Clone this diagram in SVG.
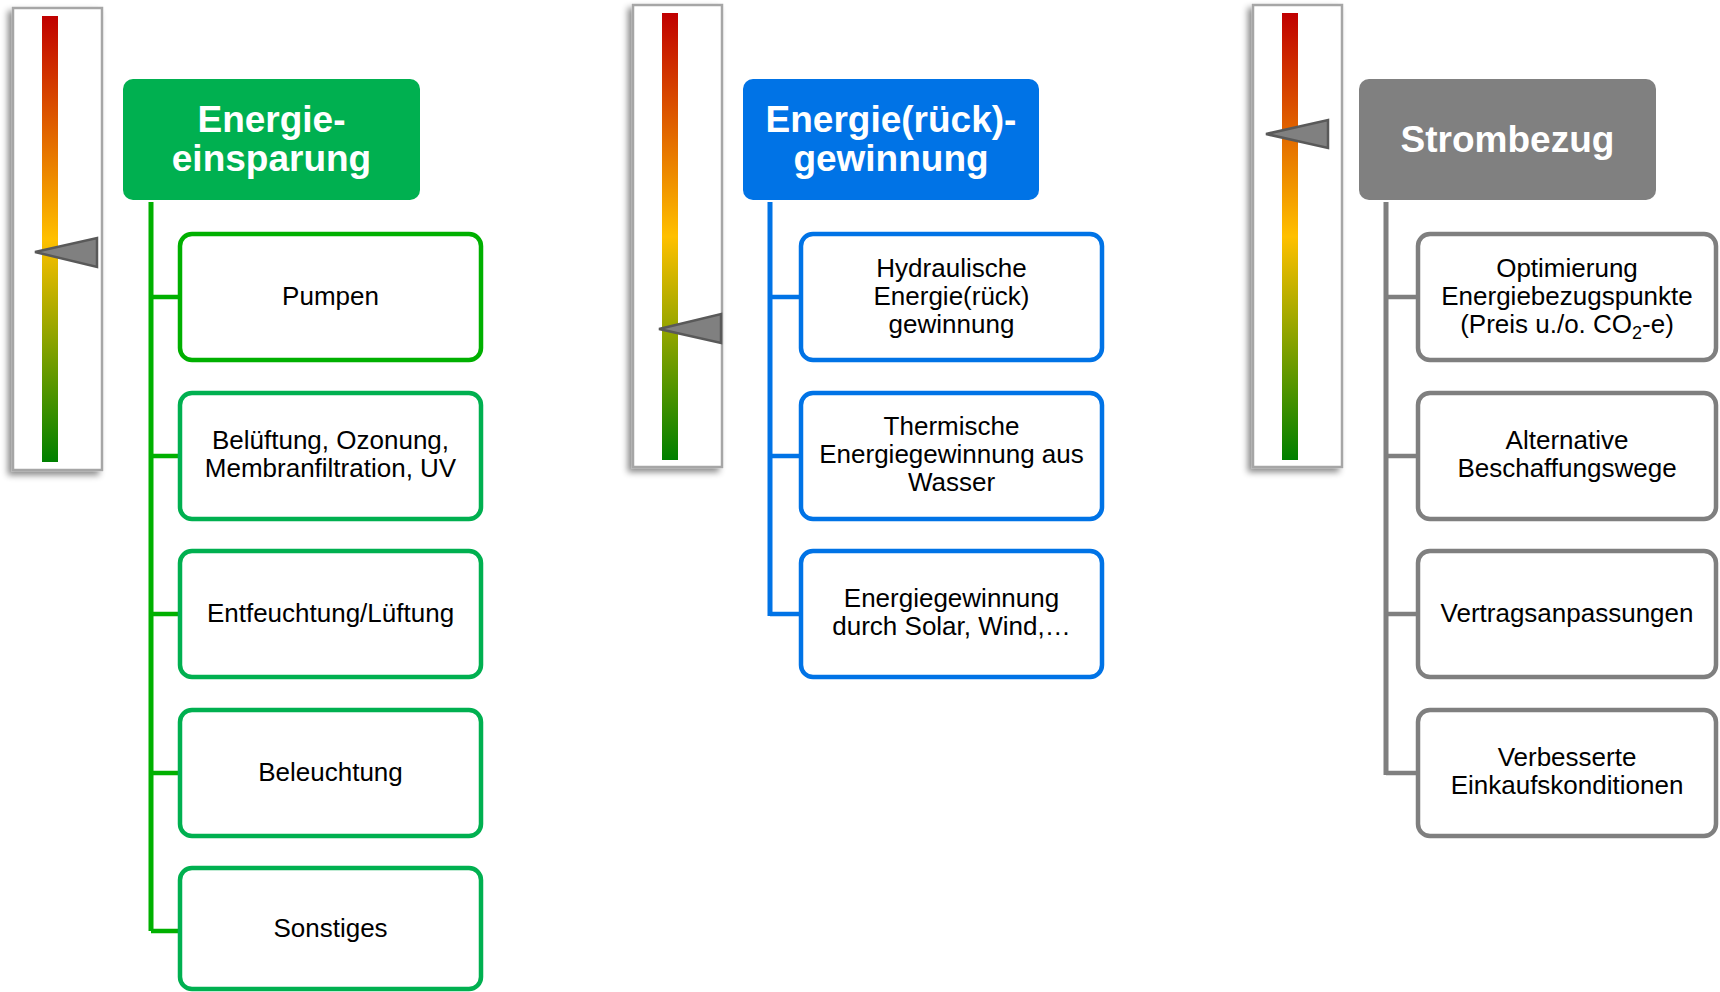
<svg xmlns="http://www.w3.org/2000/svg" width="1720" height="992" viewBox="0 0 1720 992">
<defs>
<linearGradient id="scale" x1="0" y1="0" x2="0" y2="1">
<stop offset="0" stop-color="#C00000"/>
<stop offset="0.5" stop-color="#FFC000"/>
<stop offset="1" stop-color="#008000"/>
</linearGradient>
<filter id="sh" x="-30%" y="-10%" width="160%" height="120%">
<feDropShadow dx="-4" dy="4" stdDeviation="3" flood-color="#000" flood-opacity="0.45"/>
</filter>
</defs>
<style>
.frame{fill:#fff;stroke:#A6A6A6;stroke-width:2.5}
.ptr{fill:#808080;stroke:#595959;stroke-width:2.5;stroke-linejoin:miter}
.hdr{font-family:"Liberation Sans",Arial,sans-serif;font-weight:bold;font-size:37px;fill:#fff;text-anchor:middle}
.lbl{font-family:"Liberation Sans",Arial,sans-serif;font-size:26px;fill:#000;text-anchor:middle}
.box{fill:#fff;stroke-width:4.5}
.g{stroke:#00B050}
.g0{stroke:#00B000}
.b{stroke:#0073E6}
.k{stroke:#7F7F7F}
.cg{stroke:#00B000;fill:none}
.cb{stroke:#0073E6;fill:none}
.ck{stroke:#7F7F7F;fill:none}
.v{stroke-width:5}
.h{stroke-width:4.5}
</style>

<g id="gauge1">
<rect class="frame" x="13" y="8" width="89" height="462" filter="url(#sh)"/>
<rect x="42" y="16" width="16" height="446" fill="url(#scale)"/>
<polygon class="ptr" points="35,252 97,238 97,267"/>
</g>
<g id="gauge2">
<rect class="frame" x="633" y="5" width="89" height="462" filter="url(#sh)"/>
<rect x="662" y="13" width="16" height="447" fill="url(#scale)"/>
<polygon class="ptr" points="659,329 721,314 721,343"/>
</g>
<g id="gauge3">
<rect class="frame" x="1253" y="5" width="89" height="462" filter="url(#sh)"/>
<rect x="1282" y="13" width="16" height="447" fill="url(#scale)"/>
<polygon class="ptr" points="1266,134 1328,120 1328,148"/>
</g>

<g id="connectors">
<path class="cg v" d="M151,202 V931"/>
<path class="cg h" d="M151,297 H180 M151,456 H180 M151,614 H180 M151,773 H180 M151,931 H180"/>
<path class="cb v" d="M770,202 V616"/>
<path class="cb h" d="M770,297 H801 M770,456 H801 M770,614 H801"/>
<path class="ck v" d="M1386,202 V775"/>
<path class="ck h" d="M1386,297 H1418 M1386,456 H1418 M1386,614 H1418 M1386,773 H1418"/>
</g>

<g id="hdr-einsparung">
<rect x="123" y="79" width="297" height="121" rx="10" fill="#00B050"/>
<text class="hdr" x="271.5" y="132">Energie-</text>
<text class="hdr" x="271.5" y="171">einsparung</text>
</g>
<g id="hdr-gewinnung">
<rect x="743" y="79" width="296" height="121" rx="10" fill="#0073E6"/>
<text class="hdr" x="891" y="132">Energie(rück)-</text>
<text class="hdr" x="891" y="171">gewinnung</text>
</g>
<g id="hdr-strombezug">
<rect x="1359" y="79" width="297" height="121" rx="10" fill="#808080"/>
<text class="hdr" x="1507.5" y="152">Strombezug</text>
</g>

<g id="pumpen">
<rect class="box g0" x="180" y="234" width="301" height="126" rx="12"/>
<text class="lbl" x="330.5" y="305">Pumpen</text>
</g>
<g id="belueftung">
<rect class="box g" x="180" y="393" width="301" height="126" rx="12"/>
<text class="lbl" x="330.5" y="449">Belüftung, Ozonung,</text>
<text class="lbl" x="330.5" y="477">Membranfiltration, UV</text>
</g>
<g id="entfeuchtung">
<rect class="box g" x="180" y="551" width="301" height="126" rx="12"/>
<text class="lbl" x="330.5" y="622">Entfeuchtung/Lüftung</text>
</g>
<g id="beleuchtung">
<rect class="box g" x="180" y="710" width="301" height="126" rx="12"/>
<text class="lbl" x="330.5" y="781">Beleuchtung</text>
</g>
<g id="sonstiges">
<rect class="box g" x="180" y="868" width="301" height="121" rx="12"/>
<text class="lbl" x="330.5" y="937">Sonstiges</text>
</g>

<g id="hydraulisch">
<rect class="box b" x="801" y="234" width="301" height="126" rx="12"/>
<text class="lbl" x="951.5" y="277">Hydraulische</text>
<text class="lbl" x="951.5" y="305">Energie(rück)</text>
<text class="lbl" x="951.5" y="333">gewinnung</text>
</g>
<g id="thermisch">
<rect class="box b" x="801" y="393" width="301" height="126" rx="12"/>
<text class="lbl" x="951.5" y="435">Thermische</text>
<text class="lbl" x="951.5" y="463">Energiegewinnung aus</text>
<text class="lbl" x="951.5" y="491">Wasser</text>
</g>
<g id="solar">
<rect class="box b" x="801" y="551" width="301" height="126" rx="12"/>
<text class="lbl" x="951.5" y="607">Energiegewinnung</text>
<text class="lbl" x="951.5" y="635">durch Solar, Wind,…</text>
</g>

<g id="optimierung">
<rect class="box k" x="1418" y="234" width="298" height="126" rx="12"/>
<text class="lbl" x="1567" y="277">Optimierung</text>
<text class="lbl" x="1567" y="305">Energiebezugspunkte</text>
<text class="lbl" x="1567" y="333">(Preis u./o. CO<tspan font-size="18" dy="6">2</tspan><tspan dy="-6">-e)</tspan></text>
</g>
<g id="alternative">
<rect class="box k" x="1418" y="393" width="298" height="126" rx="12"/>
<text class="lbl" x="1567" y="449">Alternative</text>
<text class="lbl" x="1567" y="477">Beschaffungswege</text>
</g>
<g id="vertrag">
<rect class="box k" x="1418" y="551" width="298" height="126" rx="12"/>
<text class="lbl" x="1567" y="622">Vertragsanpassungen</text>
</g>
<g id="einkauf">
<rect class="box k" x="1418" y="710" width="298" height="126" rx="12"/>
<text class="lbl" x="1567" y="766">Verbesserte</text>
<text class="lbl" x="1567" y="794">Einkaufskonditionen</text>
</g>
</svg>
